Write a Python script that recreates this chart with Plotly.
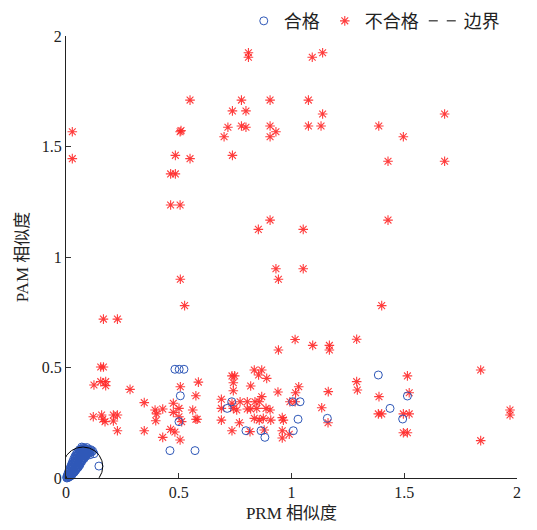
import numpy as np
import plotly.graph_objects as go

# ---------------- data ----------------
# qualified samples (blue circles): cluster near origin + scattered points
pass_x = [0.003,0.006,0.010,0.012,0.015,0.008,0.018,0.020,0.015,0.025,0.028,0.022,0.030,0.034,0.026,
          0.036,0.040,0.030,0.042,0.046,0.035,0.048,0.052,0.040,0.054,0.058,0.045,0.060,0.064,0.050,
          0.066,0.070,0.055,0.072,0.076,0.060,0.078,0.082,0.066,0.084,0.088,0.072,0.090,0.094,0.078,
          0.096,0.100,0.084,0.104,0.060,0.052,0.046,0.040,0.034,0.028,0.022,0.016,0.012,0.062,0.070,
          0.080,0.088,0.055,0.045,0.036,0.025,0.106,0.110,0.118,0.124,0.146,0.092,0.070,
          0.004,0.009,0.014,0.019,0.024,0.029,0.033,0.038,0.043,0.047,0.051,0.056,0.061,0.065,0.069,
          0.074,0.079,0.083,0.087,0.091,0.097,0.102,0.108,0.113,0.030,0.038,0.044,0.050,0.057,0.063,
          0.068,0.075,0.081,0.086,0.093,0.099,0.020,0.027,0.033,0.041,0.048,0.056,0.064,0.071,0.077,
          0.483,0.502,0.523,0.507,0.501,0.461,0.572,
          0.735,0.715,0.798,0.865,0.882,1.008,1.005,1.038,1.029,1.159,
          1.385,1.514,1.437,1.493]
pass_y = [0.004,0.010,0.006,0.015,0.010,0.018,0.022,0.015,0.028,0.030,0.022,0.038,0.040,0.032,0.048,
          0.050,0.042,0.058,0.060,0.050,0.068,0.070,0.060,0.078,0.080,0.070,0.088,0.090,0.080,0.098,
          0.100,0.090,0.108,0.110,0.098,0.115,0.118,0.106,0.122,0.124,0.112,0.128,0.128,0.116,0.132,
          0.122,0.110,0.134,0.120,0.128,0.118,0.108,0.098,0.085,0.070,0.055,0.040,0.030,0.060,0.075,
          0.088,0.098,0.050,0.040,0.026,0.012,0.105,0.128,0.122,0.110,0.054,0.138,0.140,
          0.000,0.002,0.005,0.008,0.016,0.020,0.025,0.030,0.035,0.043,0.046,0.055,0.066,0.072,0.080,
          0.086,0.094,0.100,0.104,0.108,0.114,0.126,0.116,0.118,0.050,0.064,0.075,0.085,0.094,0.104,
          0.112,0.124,0.128,0.118,0.120,0.130,0.045,0.062,0.076,0.090,0.102,0.112,0.120,0.132,0.138,
          0.492,0.492,0.492,0.372,0.255,0.124,0.124,
          0.345,0.315,0.214,0.214,0.184,0.214,0.345,0.345,0.266,0.270,
          0.466,0.371,0.315,0.267]

# unqualified samples (red stars)
fail_x = [0.809,0.809,1.092,1.138,0.550,0.778,0.905,1.075,0.738,0.798,1.138,1.679,
          0.028,0.506,0.510,0.718,0.778,0.798,0.905,0.931,1.075,1.131,1.387,
          0.701,0.905,1.496,0.028,0.485,0.550,0.738,1.428,1.679,0.464,0.485,
          0.464,0.506,0.905,1.428,0.853,1.052,0.931,1.052,0.942,0.507,0.526,1.400,
          0.166,0.228,1.016,1.289,1.094,1.168,1.168,0.942,0.154,0.166,1.839,
          0.124,0.154,0.176,0.176,0.284,0.347,0.507,0.587,0.576,
          0.121,0.158,0.163,0.210,0.228,0.210,0.173,0.228,0.347,
          0.395,0.402,0.398,0.429,0.429,0.464,0.483,0.476,0.476,0.501,0.501,0.506,0.513,0.562,0.576,0.582,
          0.736,0.748,0.742,0.742,0.819,0.835,0.868,0.854,0.890,0.940,1.032,1.018,1.163,1.289,1.292,
          0.689,0.689,0.736,0.742,0.757,0.772,0.804,0.804,0.819,0.838,0.846,0.857,0.868,0.887,0.905,
          0.689,0.769,0.835,0.857,0.875,0.908,0.959,0.964,
          0.736,0.816,0.879,0.959,0.959,0.990,
          0.993,1.016,1.134,1.162,
          1.514,1.388,1.522,1.385,1.400,1.496,1.522,1.496,1.514,
          1.969,1.969,1.839]
fail_y = [1.924,1.904,1.904,1.924,1.710,1.710,1.710,1.710,1.661,1.661,1.647,1.647,
          1.567,1.567,1.572,1.587,1.593,1.587,1.593,1.567,1.593,1.593,1.593,
          1.544,1.544,1.544,1.445,1.460,1.445,1.460,1.433,1.433,1.376,1.376,
          1.235,1.235,1.167,1.167,1.125,1.125,0.947,0.947,0.899,0.899,0.780,0.780,
          0.719,0.719,0.627,0.628,0.600,0.600,0.579,0.579,0.502,0.502,0.489,
          0.421,0.436,0.436,0.418,0.401,0.341,0.413,0.434,0.372,
          0.277,0.285,0.266,0.285,0.285,0.258,0.255,0.214,0.214,
          0.308,0.290,0.259,0.312,0.184,0.220,0.208,0.338,0.297,0.315,0.277,0.172,0.255,0.308,0.266,0.266,
          0.462,0.462,0.431,0.395,0.416,0.489,0.489,0.466,0.451,0.389,0.413,0.386,0.391,0.436,0.398,
          0.356,0.315,0.338,0.315,0.308,0.345,0.345,0.312,0.312,0.345,0.315,0.345,0.368,0.315,0.308,
          0.262,0.250,0.270,0.262,0.270,0.262,0.273,0.262,
          0.214,0.210,0.217,0.214,0.181,0.198,
          0.345,0.345,0.318,0.250,
          0.462,0.368,0.386,0.290,0.290,0.290,0.290,0.205,0.205,
          0.308,0.285,0.169]

boundary_center = [0.075, 0.052]
boundary_radius = 0.088

tick_vals = [0, 0.5, 1, 1.5, 2]
tick_text = ["0", "0.5", "1", "1.5", "2"]

legend_names = ["合格", "不合格", "边界"]
x_title = "PRM 相似度"
y_title = "PAM 相似度"

# ---------------- figure ----------------
serif = "Liberation Serif, Noto Sans CJK SC, serif"
theta = np.linspace(0, 2 * np.pi, 200)
circ_x = boundary_center[0] + boundary_radius * np.cos(theta)
circ_y = boundary_center[1] + boundary_radius * np.sin(theta)

fig = go.Figure()
fig.add_trace(go.Scatter(
    x=fail_x, y=fail_y, mode="markers", name=legend_names[1],
    marker=dict(symbol="asterisk-open", size=8, color="rgba(255,40,40,0.9)",
                line=dict(width=1.1, color="rgba(255,40,40,0.9)")),
    cliponaxis=False, legendrank=2))
fig.add_trace(go.Scatter(
    x=pass_x, y=pass_y, mode="markers", name=legend_names[0],
    marker=dict(symbol="circle-open", size=8, color="#2f58b8",
                line=dict(width=1, color="#2f58b8")),
    cliponaxis=False, legendrank=1))
fig.add_trace(go.Scatter(
    x=circ_x, y=circ_y, mode="lines", showlegend=False,
    line=dict(color="black", width=1), cliponaxis=True))
fig.add_trace(go.Scatter(
    x=[None], y=[None], mode="lines", name=legend_names[2],
    line=dict(color="black", width=1, dash="dash"), legendrank=3))

axis_common = dict(
    range=[0, 2], tickvals=tick_vals, ticktext=tick_text,
    ticks="inside", ticklen=5, tickcolor="#333", tickwidth=1,
    showline=True, linecolor="#222", linewidth=1,
    showgrid=False, zeroline=False,
    tickfont=dict(family=serif, size=16, color="#222"),
)

fig.update_layout(
    width=537, height=530,
    margin=dict(l=66, r=20, t=36, b=52, autoexpand=False),
    plot_bgcolor="white", paper_bgcolor="white",
    xaxis=dict(**axis_common,
               title=dict(text=x_title, font=dict(family=serif, size=17, color="#222"), standoff=6)),
    yaxis=dict(**axis_common,
               title=dict(text=y_title, font=dict(family=serif, size=17, color="#222"), standoff=8)),
    legend=dict(orientation="h", x=0.94, xanchor="right", xref="container",
                y=0.995, yanchor="top", yref="container",
                font=dict(family=serif, size=18, color="#222"),
                bgcolor="rgba(0,0,0,0)", itemwidth=30, traceorder="normal"),
    showlegend=True,
)

fig.write_html("out.html")
